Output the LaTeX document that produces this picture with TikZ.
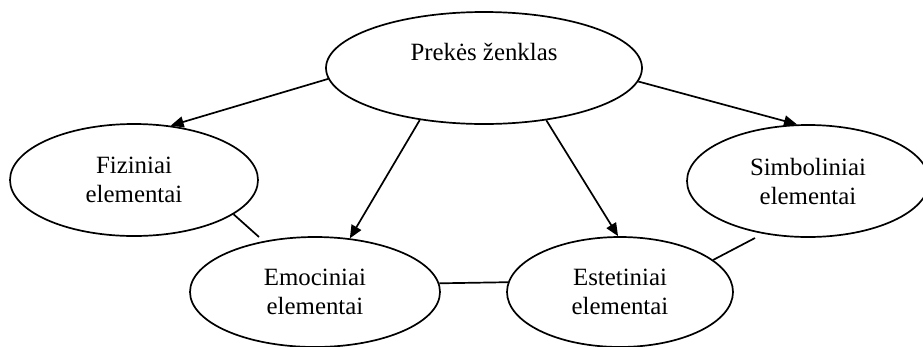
\documentclass[tikz,border=0pt]{standalone}
\usepackage{fontspec}
\setmainfont{Liberation Serif}
\usetikzlibrary{shapes.geometric,arrows.meta}
\begin{document}
\begin{tikzpicture}[x=1pt,y=-1pt,
  every node/.style={font=\fontsize{24.85}{29}\selectfont},
  ell/.style={draw,ellipse,line width=1.7pt,inner sep=0pt,align=center},
  lbl/.style={inner sep=0pt,align=center},
  conn/.style={line width=1.7pt},
  arr/.style={line width=1.7pt,-{Triangle[length=13pt,width=11pt]}}]
\useasboundingbox (0,0) rectangle (923,346);
\node[ell,minimum width=316pt,minimum height=112pt] (top) at (484,68) {};
\node[lbl] (toptext) at (484,52) {Prekės ženklas};
\node[ell,minimum width=248pt,minimum height=112pt] (fiz) at (134,180) {Fiziniai\\elementai};
\node[ell,minimum width=242pt,minimum height=112pt] (sim) at (808,181) {Simboliniai\\elementai};
\node[ell,minimum width=250pt,minimum height=110pt] (emo) at (315,292) {Emociniai\\elementai};
\node[ell,minimum width=226pt,minimum height=110pt] (est) at (620,292) {Estetiniai\\elementai};
\coordinate (fizend) at (259,237);
\coordinate (simend) at (755,238);
\draw[arr] (top.184) -- (fiz.56.8);
\draw[arr] (top.219.4) -- (emo.57.5);
\draw[arr] (top.320.5) -- (est.92);
\draw[arr] (top.355.7) -- (sim.101);
\draw[conn] (fiz.341.4) -- (fizend);
\draw[conn] (emo.4.1) -- (est.175.6);
\draw[conn] (est.19.6) -- (simend);
\end{tikzpicture}
\end{document}
